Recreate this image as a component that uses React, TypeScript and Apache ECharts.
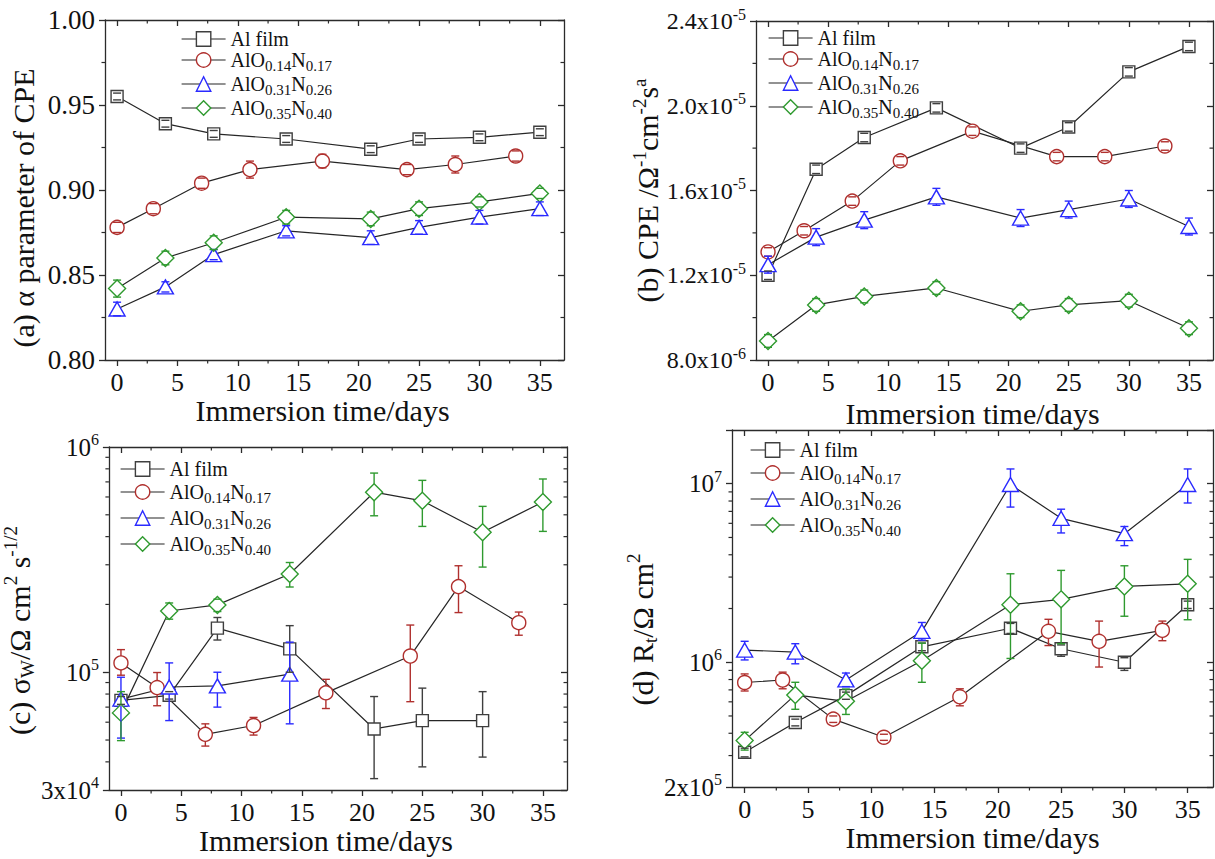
import React, { useEffect, useRef } from 'react';
import * as echarts from 'echarts';

const FONT = 'Liberation Serif';
const INK = '#111111';
const AXIS = '#2b2b2b';

// ---------- shared series definitions ----------
const seriesNames = ['Al film', 'AlO0.14N0.17', 'AlO0.31N0.26', 'AlO0.35N0.40'];
const seriesLabelParts = [
  ['Al film'],
  ['AlO', '0.14', 'N', '0.17'],
  ['AlO', '0.31', 'N', '0.26'],
  ['AlO', '0.35', 'N', '0.40'],
];
const seriesColors = ['#3f3f3f', '#b0302e', '#2a2aff', '#2f9a2f'];
const seriesSymbols = ['rect', 'circle', 'triangle', 'diamond'];
const seriesSymbolSizes: any[] = [12, 14, [16, 14], 17];
const seriesHalfHeights = [6, 7, 7, 8.5];

// ---------- immersion days ----------
const daysMain = [0, 4, 8, 14, 21, 25, 30, 35];
const daysN017 = [0, 3, 7, 11, 17, 24, 28, 33];
const daysFilmC = [0, 4, 8, 14, 21, 25, 30];
const daysN026C = [0, 4, 8, 14];

const xTicks = [0, 5, 10, 15, 20, 25, 30, 35];
const xMinorTicks = [2.5, 7.5, 12.5, 17.5, 22.5, 27.5, 32.5];
const xTitle = 'Immersion time/days';

// ---------- (a) alpha parameter of CPE ----------
const alphaFilm = [0.955, 0.939, 0.933, 0.930, 0.924, 0.930, 0.931, 0.934];
const alphaFilmErr = [0.002, 0.002, 0.002, 0.002, 0.002, 0.002, 0.002, 0.002];
const alphaN017 = [0.878, 0.889, 0.904, 0.912, 0.917, 0.912, 0.915, 0.920];
const alphaN017Err = [0.003, 0.003, 0.003, 0.005, 0.004, 0.003, 0.005, 0.003];
const alphaN026 = [0.830, 0.843, 0.862, 0.876, 0.872, 0.878, 0.884, 0.889];
const alphaN026Err = [0.004, 0.003, 0.003, 0.003, 0.004, 0.004, 0.004, 0.004];
const alphaN040 = [0.842, 0.860, 0.869, 0.884, 0.883, 0.889, 0.893, 0.898];
const alphaN040Err = [0.005, 0.004, 0.004, 0.004, 0.004, 0.004, 0.003, 0.003];
const alphaTicks = [0.8, 0.85, 0.9, 0.95, 1.0];
const alphaMinor = [0.825, 0.875, 0.925, 0.975];

// ---------- (b) CPE ----------
const cpeFilm = [1.20e-5, 1.70e-5, 1.85e-5, 1.99e-5, 1.80e-5, 1.90e-5, 2.16e-5, 2.28e-5];
const cpeFilmErr = [2e-7, 2e-7, 2e-7, 2e-7, 2e-7, 2e-7, 2e-7, 2e-7];
const cpeN017 = [1.31e-5, 1.41e-5, 1.55e-5, 1.74e-5, 1.88e-5, 1.76e-5, 1.76e-5, 1.81e-5];
const cpeN017Err = [2e-7, 2e-7, 2e-7, 2e-7, 2e-7, 2e-7, 2e-7, 2e-7];
const cpeN026 = [1.25e-5, 1.38e-5, 1.46e-5, 1.57e-5, 1.47e-5, 1.51e-5, 1.56e-5, 1.43e-5];
const cpeN026Err = [4e-7, 4e-7, 4e-7, 4e-7, 4e-7, 4e-7, 4e-7, 4e-7];
const cpeN040 = [0.89e-5, 1.06e-5, 1.10e-5, 1.14e-5, 1.03e-5, 1.06e-5, 1.08e-5, 0.95e-5];
const cpeN040Err = [3e-7, 3e-7, 3e-7, 3e-7, 3e-7, 3e-7, 3e-7, 3e-7];
const cpeTicks = [0.8e-5, 1.2e-5, 1.6e-5, 2.0e-5, 2.4e-5];
const cpeTickLabels = [['8.0x10', '-6'], ['1.2x10', '-5'], ['1.6x10', '-5'], ['2.0x10', '-5'], ['2.4x10', '-5']];
const cpeMinor = [1.0e-5, 1.4e-5, 1.8e-5, 2.2e-5];

// ---------- (c) Warburg coefficient ----------
const sigmaFilm = [7.5e4, 7.9e4, 1.57e5, 1.27e5, 5.6e4, 6.1e4, 6.1e4];
const sigmaFilmLo = [7.2e4, 7.6e4, 1.39e5, 1.0e5, 3.37e4, 3.8e4, 4.2e4];
const sigmaFilmHi = [7.8e4, 8.2e4, 1.75e5, 1.61e5, 7.8e4, 8.5e4, 8.2e4];
const sigmaN017 = [1.1e5, 8.55e4, 5.3e4, 5.8e4, 8.1e4, 1.18e5, 2.4e5, 1.66e5];
const sigmaN017Lo = [9.7e4, 7.1e4, 4.7e4, 5.26e4, 6.9e4, 7.4e4, 1.84e5, 1.46e5];
const sigmaN017Hi = [1.26e5, 9.97e4, 5.9e4, 6.3e4, 9.3e4, 1.62e5, 2.97e5, 1.85e5];
const sigmaN026 = [7.6e4, 8.6e4, 8.7e4, 9.8e4];
const sigmaN026Lo = [5.1e4, 6.1e4, 7.0e4, 5.9e4];
const sigmaN026Hi = [9.5e4, 1.1e5, 1.0e5, 1.36e5];
const sigmaN040 = [6.6e4, 1.87e5, 1.99e5, 2.73e5, 6.3e5, 5.77e5, 4.18e5, 5.7e5];
const sigmaN040Lo = [4.97e4, 1.72e5, 1.86e5, 2.39e5, 4.95e5, 4.44e5, 2.93e5, 4.22e5];
const sigmaN040Hi = [8.2e4, 2.03e5, 2.11e5, 3.07e5, 7.66e5, 7.11e5, 5.45e5, 7.21e5];
const sigmaTicks = [3e4, 1e5, 1e6];
const sigmaTickLabels = [['3x10', '4'], ['10', '5'], ['10', '6']];
const sigmaMinor = [4e4, 5e4, 6e4, 7e4, 8e4, 9e4, 2e5, 3e5, 4e5, 5e5, 6e5, 7e5, 8e5, 9e5];

// ---------- (d) charge transfer resistance ----------
const rtFilm = [3.13e5, 4.6e5, 6.5e5, 1.22e6, 1.55e6, 1.19e6, 1.0e6, 2.1e6];
const rtFilmLo = [2.95e5, 4.4e5, 6.2e5, 1.16e6, 1.45e6, 1.08e6, 9.0e5, 2.0e6];
const rtFilmHi = [3.3e5, 4.8e5, 6.8e5, 1.28e6, 1.65e6, 1.25e6, 1.06e6, 2.2e6];
const rtN017 = [7.7e5, 7.95e5, 4.8e5, 3.8e5, 6.4e5, 1.49e6, 1.31e6, 1.51e6];
const rtN017Lo = [6.9e5, 7.1e5, 4.6e5, 3.65e5, 5.7e5, 1.24e6, 9.4e5, 1.32e6];
const rtN017Hi = [8.6e5, 8.8e5, 5.0e5, 3.95e5, 7.1e5, 1.74e6, 1.7e6, 1.7e6];
const rtN026 = [1.17e6, 1.14e6, 7.96e5, 1.49e6, 9.9e6, 6.4e6, 5.25e6, 9.9e6];
const rtN026Lo = [1.03e6, 9.8e5, 7.3e5, 1.33e6, 7.4e6, 5.3e6, 4.5e6, 7.8e6];
const rtN026Hi = [1.31e6, 1.27e6, 8.7e5, 1.67e6, 1.21e7, 7.2e6, 5.76e6, 1.21e7];
const rtN040 = [3.64e5, 6.56e5, 6.04e5, 1.02e6, 2.1e6, 2.25e6, 2.66e6, 2.75e6];
const rtN040Lo = [3.22e5, 5.45e5, 5.1e5, 7.72e5, 1.05e6, 1.27e6, 1.81e6, 1.73e6];
const rtN040Hi = [4.05e5, 7.72e5, 7.08e5, 1.28e6, 3.13e6, 3.27e6, 3.47e6, 3.77e6];
const rtTicks = [2e5, 1e6, 1e7];
const rtTickLabels = [['2x10', '5'], ['10', '6'], ['10', '7']];
const rtMinor = [3e5, 4e5, 5e5, 6e5, 7e5, 8e5, 9e5, 2e6, 3e6, 4e6, 5e6, 6e6, 7e6, 8e6, 9e6];

// ---------- helpers ----------
type PanelSeries = { days: number[]; values: number[]; lo: number[]; hi: number[] };

const withErr = (days: number[], values: number[], err: number[]): PanelSeries => ({
  days,
  values,
  lo: values.map((v, i) => v - err[i]),
  hi: values.map((v, i) => v + err[i]),
});
const withBounds = (days: number[], values: number[], lo: number[], hi: number[]): PanelSeries => ({
  days, values, lo, hi,
});

const findTick = (ticks: number[], v: number, log: boolean) =>
  ticks.findIndex((t) =>
    log ? Math.abs(Math.log10(t) - Math.log10(v)) < 1e-6 : Math.abs(t - v) < Math.abs(t) * 1e-6
  );

const powerLabel = (ticks: number[], labels: string[][], log: boolean) => (v: number) => {
  const i = findTick(ticks, v, log);
  if (i < 0) return '';
  return `{m|${labels[i][0]}}{e|${labels[i][1]}}`;
};

const legendText = (name: string) => {
  const parts = seriesLabelParts[seriesNames.indexOf(name)];
  if (!parts || parts.length === 1) return `{f|${name}}`;
  return `{n|${parts[0]}}{s|${parts[1]}}{n|${parts[2]}}{s|${parts[3]}}`;
};

const tickRich = (size: number) => ({
  m: { fontFamily: FONT, fontSize: size, color: INK, lineHeight: size + 6 },
  e: { fontFamily: FONT, fontSize: 16, color: INK, lineHeight: 10, verticalAlign: 'top' },
});

const titleRich = {
  t: { fontFamily: FONT, fontSize: 30, color: INK, lineHeight: 36 },
  p: { fontFamily: FONT, fontSize: 19, color: INK, lineHeight: 18, verticalAlign: 'top' },
  b: { fontFamily: FONT, fontSize: 19, color: INK, lineHeight: 16, verticalAlign: 'bottom' },
};

interface Panel {
  grid: { left: number; top: number; width: number; height: number };
  yLog: boolean;
  yMin: number;
  yMax: number;
  yTicks: number[] | null;
  yLabel: (v: number) => string;
  yLabelSize: number;
  yMinor: number[];
  yName: string;
  yNameGap: number;
  yNameShift: number;
  xNameGap: number;
  xNameShift: number;
  legend: { left: number; top: number; gap: number };
  series: PanelSeries[];
}

const panels: Panel[] = [
  {
    grid: { left: 105, top: 20, width: 459, height: 340 },
    yLog: false, yMin: 0.8, yMax: 1.0,
    yTicks: alphaTicks,
    yLabel: (v) => `{m|${v.toFixed(2)}}`,
    yLabelSize: 27,
    yMinor: alphaMinor,
    yName: '{t|(a) α parameter of CPE}',
    yNameGap: 64, yNameShift: 18,
    xNameGap: 34, xNameShift: 12,
    legend: { left: 176, top: 24, gap: 1 },
    series: [
      withErr(daysMain, alphaFilm, alphaFilmErr),
      withErr(daysN017, alphaN017, alphaN017Err),
      withErr(daysMain, alphaN026, alphaN026Err),
      withErr(daysMain, alphaN040, alphaN040Err),
    ],
  },
  {
    grid: { left: 756, top: 21, width: 457, height: 339 },
    yLog: false, yMin: 0.8e-5, yMax: 2.4e-5,
    yTicks: cpeTicks,
    yLabel: powerLabel(cpeTicks, cpeTickLabels, false),
    yLabelSize: 24,
    yMinor: cpeMinor,
    yName: '{t|(b) CPE /Ω}{p|-1}{t|cm}{p|-2}{t|s}{p|a}',
    yNameGap: 88, yNameShift: 0,
    xNameGap: 38, xNameShift: 12,
    legend: { left: 763, top: 23, gap: 1 },
    series: [
      withErr(daysMain, cpeFilm, cpeFilmErr),
      withErr(daysN017, cpeN017, cpeN017Err),
      withErr(daysMain, cpeN026, cpeN026Err),
      withErr(daysMain, cpeN040, cpeN040Err),
    ],
  },
  {
    grid: { left: 105, top: 447, width: 462, height: 343 },
    yLog: true, yMin: 3e4, yMax: 1e6,
    yTicks: null,
    yLabel: powerLabel(sigmaTicks, sigmaTickLabels, true),
    yLabelSize: 25,
    yMinor: sigmaMinor,
    yName: '{t|(c) σ}{b|W}{t|/Ω cm}{p|2}{t| s}{p|-1/2}',
    yNameGap: 56, yNameShift: 12,
    xNameGap: 33, xNameShift: 12,
    legend: { left: 115, top: 454, gap: 3 },
    series: [
      withBounds(daysFilmC, sigmaFilm, sigmaFilmLo, sigmaFilmHi),
      withBounds(daysN017, sigmaN017, sigmaN017Lo, sigmaN017Hi),
      withBounds(daysN026C, sigmaN026, sigmaN026Lo, sigmaN026Hi),
      withBounds(daysMain, sigmaN040, sigmaN040Lo, sigmaN040Hi),
    ],
  },
  {
    grid: { left: 732, top: 430, width: 481, height: 357 },
    yLog: true, yMin: 2e5, yMax: 2e7,
    yTicks: null,
    yLabel: powerLabel(rtTicks, rtTickLabels, true),
    yLabelSize: 25,
    yMinor: rtMinor,
    yName: '{t|(d) R}{b|t}{t|/Ω cm}{p|2}',
    yNameGap: 66, yNameShift: 21,
    xNameGap: 31, xNameShift: 0,
    legend: { left: 745, top: 435, gap: 3 },
    series: [
      withBounds(daysMain, rtFilm, rtFilmLo, rtFilmHi),
      withBounds(daysN017, rtN017, rtN017Lo, rtN017Hi),
      withBounds(daysMain, rtN026, rtN026Lo, rtN026Hi),
      withBounds(daysMain, rtN040, rtN040Lo, rtN040Hi),
    ],
  },
];

const X_MIN = -1;
const X_MAX = 37;

// error bar with caps; the stem is hidden inside the marker
const errorBarItem = (color: string, half: number) => (params: any, api: any) => {
  const x = api.value(0);
  const pl = api.coord([x, api.value(1)]);
  const ph = api.coord([x, api.value(2)]);
  const pm = api.coord([x, api.value(3)]);
  const style = { stroke: color, lineWidth: 1.4, fill: null };
  const cap = 4;
  const children: any[] = [];
  if (ph[1] < pm[1] - half) {
    children.push({ type: 'line', shape: { x1: pm[0], y1: pm[1] - half, x2: ph[0], y2: ph[1] }, style });
  }
  if (pl[1] > pm[1] + half) {
    children.push({ type: 'line', shape: { x1: pm[0], y1: pm[1] + half, x2: pl[0], y2: pl[1] }, style });
  }
  children.push({ type: 'line', shape: { x1: ph[0] - cap, y1: ph[1], x2: ph[0] + cap, y2: ph[1] }, style });
  children.push({ type: 'line', shape: { x1: pl[0] - cap, y1: pl[1], x2: pl[0] + cap, y2: pl[1] }, style });
  return { type: 'group', children };
};

// minor ticks: outward on bottom/left, inward on top/right
const minorTickItem = (dir: 'x' | 'y') => (params: any, api: any) => {
  const cs = params.coordSys;
  const p = api.coord([api.value(0), api.value(1)]);
  const style = { stroke: AXIS, lineWidth: 1.2 };
  const len = 3.5;
  if (dir === 'x') {
    return {
      type: 'group',
      children: [
        { type: 'line', shape: { x1: p[0], y1: cs.y + cs.height, x2: p[0], y2: cs.y + cs.height + len }, style },
        { type: 'line', shape: { x1: p[0], y1: cs.y, x2: p[0], y2: cs.y + len }, style },
      ],
    };
  }
  return {
    type: 'group',
    children: [
      { type: 'line', shape: { x1: cs.x, y1: p[1], x2: cs.x - len, y2: p[1] }, style },
      { type: 'line', shape: { x1: cs.x + cs.width, y1: p[1], x2: cs.x + cs.width - len, y2: p[1] }, style },
    ],
  };
};

function buildOption() {
  const grid: any[] = [];
  const xAxis: any[] = [];
  const yAxis: any[] = [];
  const series: any[] = [];
  const legend: any[] = [];

  const axisLine = { show: true, onZero: false, lineStyle: { color: AXIS, width: 1.3 } };
  const tickLine = { color: AXIS, width: 1.3 };

  panels.forEach((p, i) => {
    grid.push({ ...p.grid, containLabel: false });
    const xi = 2 * i;
    const yi = 2 * i;

    xAxis.push({
      type: 'value', gridIndex: i, position: 'bottom', min: X_MIN, max: X_MAX,
      axisLine,
      axisTick: { show: true, inside: false, length: 6, customValues: xTicks, lineStyle: tickLine },
      axisLabel: {
        customValues: xTicks, margin: 9, fontFamily: FONT, fontSize: 26, color: INK,
      },
      splitLine: { show: false },
      name: xTitle, nameLocation: 'middle', nameGap: p.xNameGap,
      nameTextStyle: {
        fontFamily: FONT, fontSize: 30, color: INK,
        padding: [0, 2 * p.xNameShift, 0, 0],
      },
    });
    xAxis.push({
      type: 'value', gridIndex: i, position: 'top', min: X_MIN, max: X_MAX,
      axisLine,
      axisTick: { show: true, inside: true, length: 6, customValues: xTicks, lineStyle: tickLine },
      axisLabel: { show: false },
      splitLine: { show: false },
    });

    const yCommon: any = {
      type: p.yLog ? 'log' : 'value', gridIndex: i, min: p.yMin, max: p.yMax,
      splitLine: { show: false }, axisLine,
    };
    const yTickOpt: any = { show: true, length: 6, lineStyle: tickLine };
    if (p.yTicks) yTickOpt.customValues = p.yTicks;
    const yLabelOpt: any = {
      margin: 10, formatter: p.yLabel, rich: tickRich(p.yLabelSize),
      fontFamily: FONT, fontSize: p.yLabelSize, color: INK,
      showMinLabel: true, showMaxLabel: true,
    };
    if (p.yTicks) yLabelOpt.customValues = p.yTicks;

    yAxis.push({
      ...yCommon, position: 'left',
      axisTick: { ...yTickOpt, inside: false },
      axisLabel: yLabelOpt,
      name: p.yName, nameLocation: 'middle', nameRotate: 90, nameGap: p.yNameGap,
      nameTextStyle: {
        fontFamily: FONT, fontSize: 30, color: INK, rich: titleRich,
        padding: [0, 2 * p.yNameShift, 0, 0],
      },
    });
    yAxis.push({
      ...yCommon, position: 'right',
      axisTick: { ...yTickOpt, inside: true },
      axisLabel: { show: false },
    });

    // data series with error bars
    p.series.forEach((s, k) => {
      series.push({
        type: 'line', name: seriesNames[k], xAxisIndex: xi, yAxisIndex: yi,
        data: s.days.map((d, j) => [d, s.values[j]]),
        symbol: seriesSymbols[k], symbolSize: seriesSymbolSizes[k],
        showSymbol: true,
        itemStyle: { color: '#ffffff', borderColor: seriesColors[k], borderWidth: 1.4 },
        lineStyle: { color: '#262626', width: 1.2 },
        emphasis: { disabled: true },
        z: 2,
      });
      series.push({
        type: 'custom', xAxisIndex: xi, yAxisIndex: yi, silent: true, z: 3,
        data: s.days.map((d, j) => [d, s.lo[j], s.hi[j], s.values[j]]),
        encode: { x: 0, y: [1, 2, 3] },
        renderItem: errorBarItem(seriesColors[k], seriesHalfHeights[k]),
      });
    });

    // minor ticks
    series.push({
      type: 'custom', xAxisIndex: xi, yAxisIndex: yi, silent: true, z: 4,
      data: xMinorTicks.map((v) => [v, p.yMin]),
      encode: { x: 0, y: 1 },
      renderItem: minorTickItem('x'),
    });
    series.push({
      type: 'custom', xAxisIndex: xi, yAxisIndex: yi, silent: true, z: 4,
      data: p.yMinor.map((v) => [X_MIN, v]),
      encode: { x: 0, y: 1 },
      renderItem: minorTickItem('y'),
    });

    legend.push({
      orient: 'vertical', left: p.legend.left, top: p.legend.top,
      itemWidth: 44, itemHeight: 18, itemGap: p.legend.gap,
      selectedMode: false,
      data: seriesNames,
      formatter: legendText,
      itemStyle: { borderWidth: 1.4 },
      lineStyle: { width: 1.2, color: '#262626' },
      textStyle: {
        fontFamily: FONT, fontSize: 20, color: INK,
        rich: {
          f: { fontFamily: FONT, fontSize: 20, color: INK, lineHeight: 20 },
          n: { fontFamily: FONT, fontSize: 20, color: INK, lineHeight: 26 },
          s: { fontFamily: FONT, fontSize: 15, color: INK, lineHeight: 10, verticalAlign: 'bottom' },
        },
      },
    });
  });

  return {
    animation: false,
    backgroundColor: '#ffffff',
    textStyle: { fontFamily: FONT },
    grid,
    xAxis,
    yAxis,
    legend,
    series,
  };
}

export default function App() {
  const ref = useRef<HTMLDivElement>(null);
  useEffect(() => {
    if (!ref.current) return;
    const chart = echarts.init(ref.current, null, { renderer: 'svg' });
    chart.setOption(buildOption() as any);
    return () => chart.dispose();
  }, []);
  return (
    <div
      ref={ref}
      style={{ position: 'absolute', left: 0, top: 0, width: 1215, height: 859, background: '#ffffff' }}
    />
  );
}
